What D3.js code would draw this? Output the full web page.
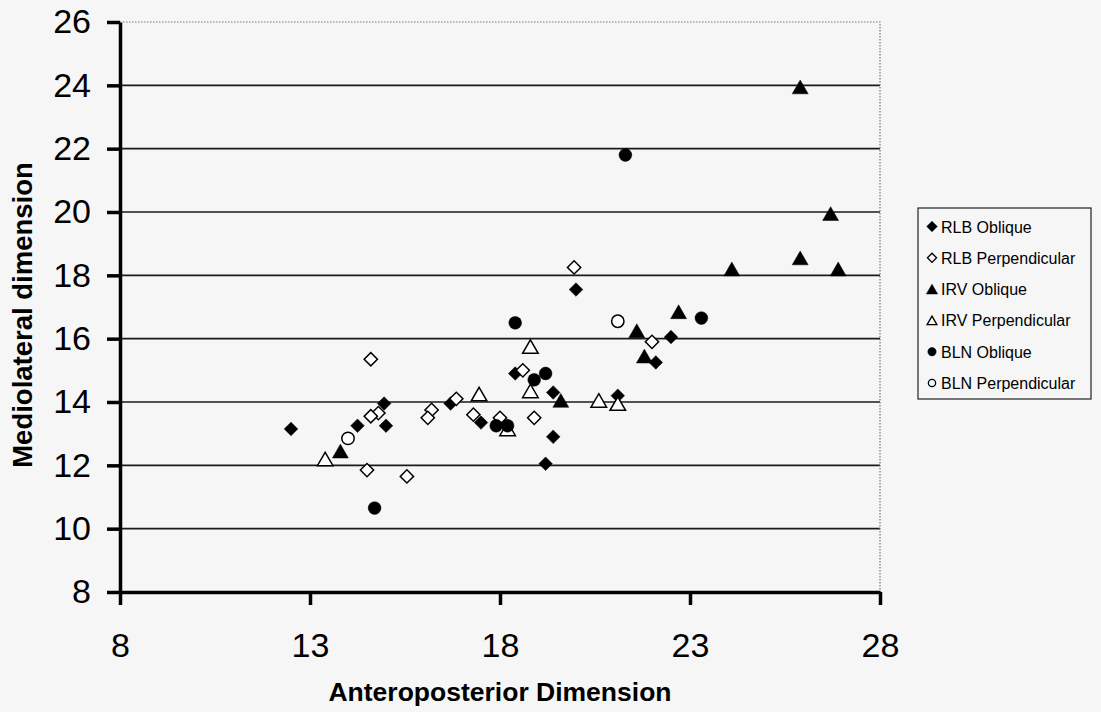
<!DOCTYPE html>
<html>
<head>
<meta charset="utf-8">
<script src="https://cdn.jsdelivr.net/npm/d3@7"></script>
<style>
    body { margin: 0; background: #f6f6f6; }
    svg { font-family: "Liberation Sans", Arial, sans-serif; }
</style>
</head>
<body>
<svg id="chart" width="1101" height="712"></svg>
<script>
// data: [anteroposterior, mediolateral]
let rlbOblique = [[20.0, 17.55], [18.4, 14.9], [19.4, 14.3], [16.7, 13.95], [14.95, 13.95], [15.0, 13.25],
    [14.25, 13.25], [12.5, 13.15], [17.5, 13.35], [19.4, 12.9], [19.2, 12.05], [22.5, 16.05], [22.1, 15.25], [21.1, 14.2]];
let rlbPerpendicular = [[19.95, 18.25], [14.6, 15.35], [18.6, 15.0], [16.85, 14.1], [14.8, 13.65], [14.6, 13.55],
    [16.2, 13.75], [16.1, 13.5], [17.3, 13.6], [18.0, 13.5], [18.9, 13.5], [14.5, 11.85], [15.55, 11.65], [22.0, 15.9]];
let irvOblique = [[25.9, 23.95], [26.7, 19.95], [25.9, 18.55], [24.1, 18.2], [26.9, 18.2], [22.7, 16.85],
    [21.6, 16.25], [21.8, 15.45], [19.6, 14.05], [13.8, 12.45]];
let irvPerpendicular = [[18.8, 15.75], [18.8, 14.35], [17.45, 14.25], [20.6, 14.05], [21.1, 13.95], [18.2, 13.15], [13.4, 12.2]];
let blnOblique = [[21.3, 21.8], [23.3, 16.65], [18.4, 16.5], [19.2, 14.9], [18.9, 14.7], [17.9, 13.25], [18.2, 13.25], [14.7, 10.65]];
let blnPerpendicular = [[21.1, 16.55], [14.0, 12.85]];

let seriesNames = ['RLB Oblique', 'RLB Perpendicular', 'IRV Oblique', 'IRV Perpendicular', 'BLN Oblique', 'BLN Perpendicular'];
let seriesData = [rlbOblique, rlbPerpendicular, irvOblique, irvPerpendicular, blnOblique, blnPerpendicular];
let xTicks = [8, 13, 18, 23, 28];
let yTicks = [8, 10, 12, 14, 16, 18, 20, 22, 24, 26];

// diamonds are squares turned 45 degrees, like the spreadsheet markers
let shapes = [d3.symbolSquare, d3.symbolSquare, d3.symbolTriangle, d3.symbolTriangle, d3.symbolCircle, d3.symbolCircle];
let rotate = [45, 45, 0, 0, 0, 0];
let filled = [true, false, true, false, true, false];
let sizes = [92, 88, 110, 105, 128, 120];

// d3 centres triangles on the centroid, shift so the box is centred
function symbolShift(i, size) {
    return shapes[i] === d3.symbolTriangle ? Math.sqrt(size / (Math.sqrt(3) * 3)) / 2 : 0;
}

let svg = d3.select('#chart');
let plot = {'l': 120, 'r': 880, 't': 22, 'b': 592};

let x = d3.scaleLinear().domain([8, 28]).range([plot.l, plot.r]);
let y = d3.scaleLinear().domain([8, 26]).range([plot.b, plot.t]);

// gridlines ------------------------------------------------------------------
svg.append('g').selectAll('line')
    .data(yTicks.filter((d) => d > 8 && d < 26))
    .enter().append('line')
    .attr('x1', plot.l).attr('x2', plot.r)
    .attr('y1', (d) => y(d)).attr('y2', (d) => y(d))
    .attr('stroke', '#1a1a1a').attr('stroke-width', 1.6);

// dotted frame top and right
svg.append('path')
    .attr('d', 'M' + plot.l + ',' + y(26) + 'H' + x(28) + 'V' + plot.b)
    .attr('fill', 'none').attr('stroke', '#777').attr('stroke-width', 1.2)
    .attr('stroke-dasharray', '1.5,1.5');

// axes -----------------------------------------------------------------------
let xAxis = svg.append('g')
    .attr('transform', 'translate(0,' + plot.b + ')')
    .call(d3.axisBottom(x).tickValues(xTicks).tickSize(13).tickPadding(28).tickSizeOuter(0));
let yAxis = svg.append('g')
    .attr('transform', 'translate(' + plot.l + ',0)')
    .call(d3.axisLeft(y).tickValues(yTicks).tickSize(13).tickPadding(16).tickSizeOuter(0));

[xAxis, yAxis].forEach((g) => {
    g.select('.domain').attr('stroke', '#000').attr('stroke-width', 3.5);
    g.selectAll('.tick line').attr('stroke', '#000').attr('stroke-width', 3.5);
    g.selectAll('.tick text')
        .attr('fill', '#000')
        .style('font-family', '"Liberation Sans", Arial, sans-serif')
        .style('font-size', '34px');
});

// axis titles
svg.append('text')
    .attr('x', (plot.l + plot.r) / 2).attr('y', 701)
    .attr('text-anchor', 'middle')
    .style('font-size', '26.5px').style('font-weight', 'bold')
    .text('Anteroposterior Dimension');
svg.append('text')
    .attr('transform', 'translate(32,315) rotate(-90)')
    .attr('text-anchor', 'middle')
    .style('font-size', '27.5px').style('font-weight', 'bold')
    .text('Mediolateral dimension');

// points ---------------------------------------------------------------------
seriesData.map((data, i) => {
    svg.append('g').selectAll('path')
        .data(data)
        .enter().append('path')
        .attr('d', d3.symbol().type(shapes[i]).size(sizes[i]))
        .attr('transform', (d) => 'translate(' + x(d[0]) + ',' + (y(d[1]) + symbolShift(i, sizes[i])) + ') rotate(' + rotate[i] + ')')
        .attr('fill', filled[i] ? '#000' : '#fff')
        .attr('stroke', '#000')
        .attr('stroke-width', filled[i] ? 0.5 : 1.5);
});

// legend ---------------------------------------------------------------------
let legend = svg.append('g').attr('transform', 'translate(918,208)');
legend.append('rect')
    .attr('width', 173).attr('height', 191)
    .attr('fill', 'none').attr('stroke', '#222').attr('stroke-width', 1.2);
let ly = d3.scaleLinear().domain([0, 5]).range([18.5, 175]);
seriesNames.map((name, i) => {
    let size = filled[i] ? 55 : 42;
    let row = legend.append('g').attr('transform', 'translate(0,' + ly(i) + ')');
    row.append('path')
        .attr('d', d3.symbol().type(shapes[i]).size(size))
        .attr('transform', 'translate(14,' + symbolShift(i, size) + ') rotate(' + rotate[i] + ')')
        .attr('fill', filled[i] ? '#000' : 'none')
        .attr('stroke', '#000').attr('stroke-width', filled[i] ? 0.5 : 1.3);
    row.append('text')
        .attr('x', 23).attr('y', 6)
        .style('font-size', '16px')
        .text(name);
});
</script>
</body>
</html>
